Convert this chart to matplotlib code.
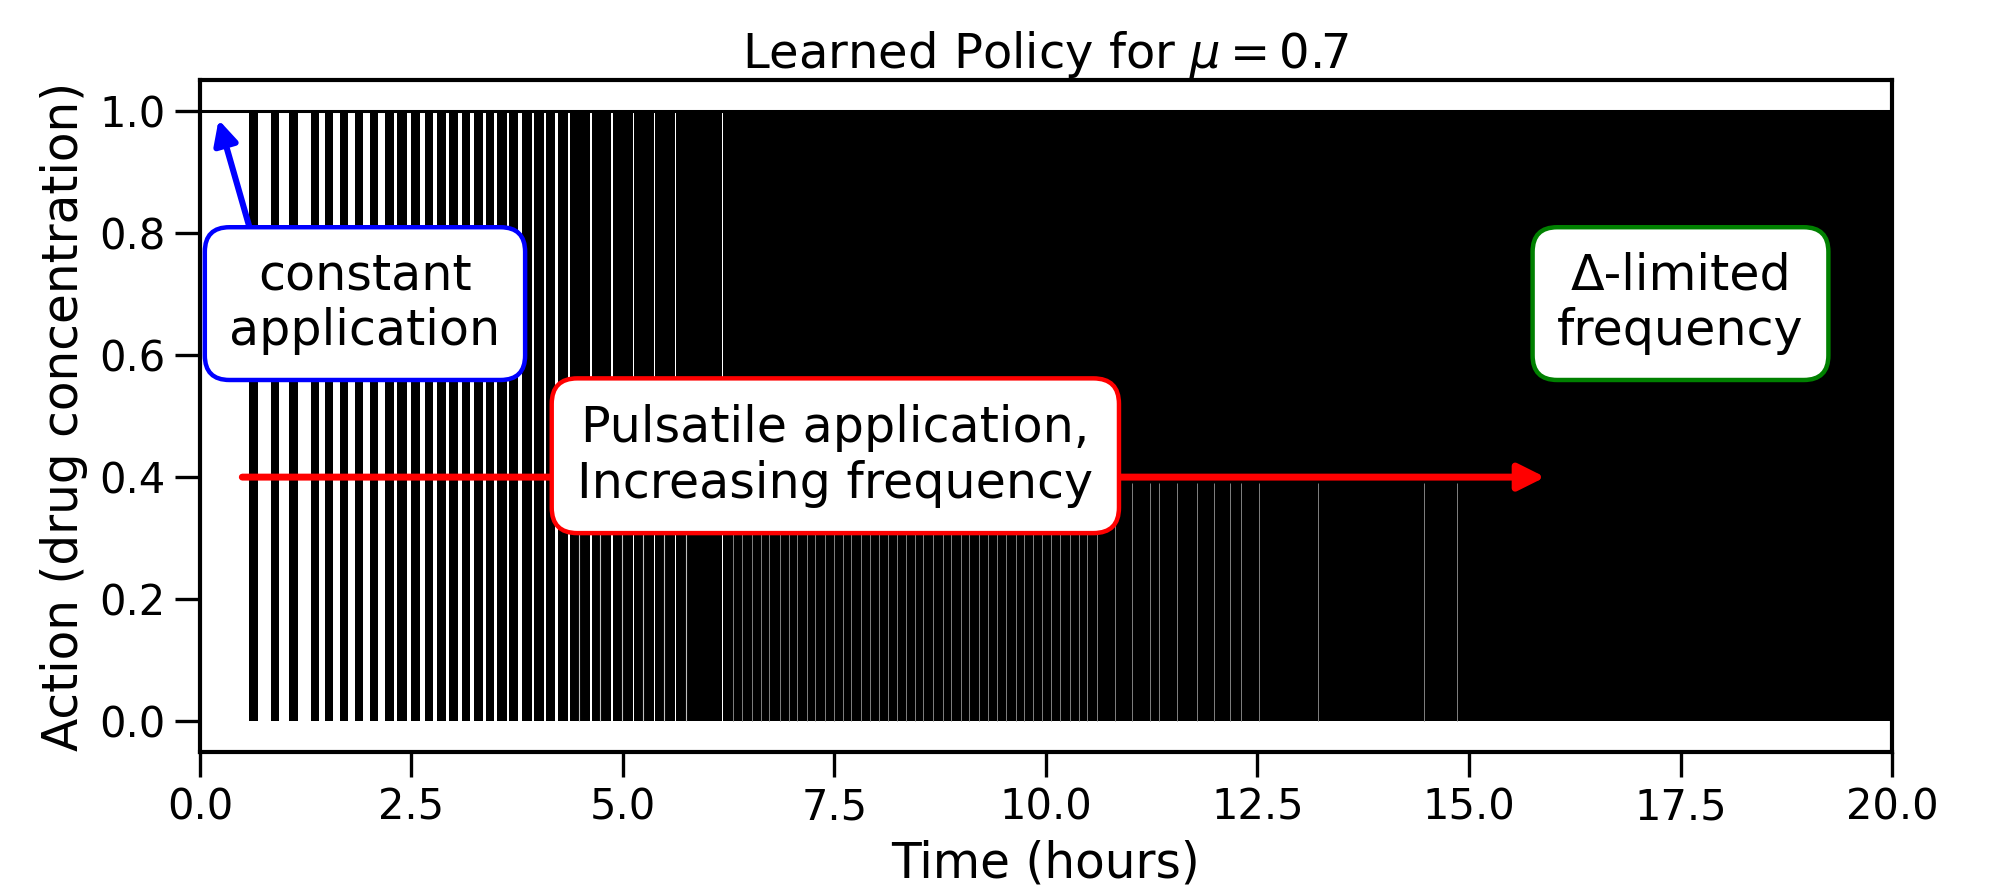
import matplotlib
matplotlib.use("Agg")
import matplotlib.pyplot as plt
import numpy as np

# Zaman ekseni (saat) ve aksiyon seviyeleri
t_start, t_end = 0.0, 20.0
action_on = 1.0
action_off = 0.0
first_pulse = 0.58  # sabit uygulamanin bittigi an

# Darbeler arasi beyaz bosluklar (baslangic, bitis) - aksiyon 1'de kaliyor
gap_start = [0.686, 0.934, 1.158, 1.407, 1.572, 1.749, 1.927, 2.104, 2.293, 2.447,
             2.600, 2.754, 2.908, 3.050, 3.191, 3.345, 3.475, 3.629, 3.759, 3.924,
             4.066, 4.196, 4.350, 4.610, 4.858, 5.118, 5.366, 5.615, 6.170]
gap_end = [0.839, 1.052, 1.312, 1.478, 1.655, 1.832, 2.009, 2.187, 2.329, 2.494,
           2.660, 2.801, 2.943, 3.097, 3.239, 3.381, 3.511, 3.652, 3.806, 3.948,
           4.090, 4.232, 4.374, 4.634, 4.882, 5.130, 5.378, 5.626, 6.182]

# Sadece alt kisimda gorulen ince bosluklar
partial_gaps = [4.48, 4.73, 4.99, 5.24, 5.49, 5.74]
partial_top = 0.56
low_gaps = [6.30, 6.41, 6.52, 6.63, 6.73, 6.85, 6.96, 7.06, 7.17, 7.27, 7.39, 7.49,
            7.60, 7.70, 7.81, 7.92, 8.03, 8.13, 8.24, 8.34, 8.45, 8.55, 8.67, 8.78,
            8.88, 8.99, 9.09, 9.21, 9.31, 9.42, 9.53, 9.64, 9.74, 9.85, 9.95, 10.06,
            10.16, 10.28, 10.39, 10.49, 10.60, 10.81, 11.02, 11.23, 11.33, 11.55,
            11.78, 11.99, 12.18, 12.31, 12.52, 13.21, 14.47, 14.86]
low_top = 0.39

x_ticks = [0.0, 2.5, 5.0, 7.5, 10.0, 12.5, 15.0, 17.5, 20.0]
y_ticks = [0.0, 0.2, 0.4, 0.6, 0.8, 1.0]

plt.rcParams["font.family"] = ["DejaVu Sans"]
plt.rcParams["mathtext.fontset"] = "dejavusans"

fig = plt.figure(figsize=(9.96, 4.43), dpi=200)
ax = fig.add_axes([0.1004, 0.1512, 0.8494, 0.7585])

# Politika cizgisi: sabit seviye + hizli degisen darbe bloklari
ax.hlines(action_on, t_start, t_end, colors="black", linewidth=1.1, zorder=2)
lefts = np.array([first_pulse] + gap_end)
rights = np.array(gap_start + [t_end])
ax.bar(lefts, action_on - action_off, width=rights - lefts, bottom=action_off,
       align="edge", color="black", linewidth=0, zorder=2)
ax.vlines(partial_gaps, action_off, partial_top, colors="0.75", linewidth=0.4, zorder=2.5)
ax.vlines(low_gaps, action_off, low_top, colors="0.5", linewidth=0.35, zorder=2.5)

# Aciklama kutulari ve oklar
note_size = 17.7
box_lw = 1.6
ax.annotate("constant\napplication", xy=(0.22, 0.985), xytext=(1.95, 0.684),
            ha="center", va="center", fontsize=note_size, zorder=6,
            bbox=dict(boxstyle="round,pad=0.5", facecolor="white", edgecolor="blue", linewidth=box_lw),
            arrowprops=dict(arrowstyle="-|>", color="blue", lw=2.2, mutation_scale=18,
                            shrinkA=0, shrinkB=0, relpos=(0.1, 1.0), joinstyle="round"))

ax.annotate("", xy=(15.9, 0.4), xytext=(0.5, 0.4), zorder=4,
            arrowprops=dict(arrowstyle="-|>", color="red", lw=2.5, mutation_scale=20,
                            shrinkA=0, shrinkB=0, capstyle="round", joinstyle="round"))
ax.text(7.51, 0.435, "Pulsatile application,\nIncreasing frequency", ha="center", va="center",
        fontsize=note_size, zorder=6,
        bbox=dict(boxstyle="round,pad=0.52", facecolor="white", edgecolor="red", linewidth=box_lw))

ax.text(17.5, 0.684, "Δ-limited\nfrequency", ha="center", va="center", fontsize=note_size, zorder=6,
        bbox=dict(boxstyle="round,pad=0.5", facecolor="white", edgecolor="green", linewidth=box_lw))

ax.set_xlim(t_start, t_end)
ax.set_ylim(-0.05, 1.05)
ax.set_xticks(x_ticks)
ax.set_yticks(y_ticks)
ax.tick_params(length=9, width=1.2, labelsize=15)
for s in ax.spines.values():
    s.set_linewidth(1.5)

ax.set_title(r"Learned Policy for $\mu = 0.7$", fontsize=17.3, pad=3)
ax.set_xlabel("Time (hours)", fontsize=17.5)
ax.set_ylabel("Action (drug concentration)", fontsize=17.5)

fig.savefig("out.png", dpi=200)
plt.close(fig)
